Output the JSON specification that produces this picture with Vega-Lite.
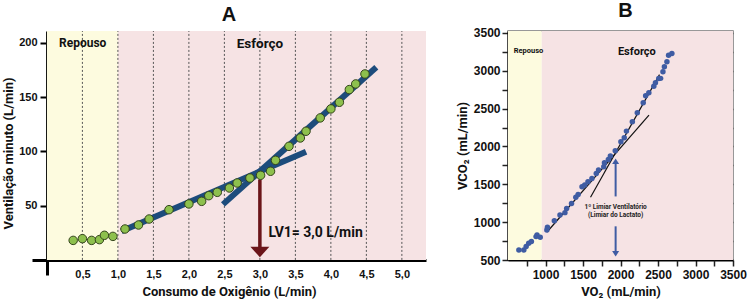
{
  "$schema": "https://vega.github.io/schema/vega-lite/v6.json",
  "padding": {"left": 2, "top": 0, "right": 0, "bottom": 0},
  "spacing": 29,
  "config": {
    "view": {"stroke": null},
    "font": "Liberation Sans",
    "axis": {"labelColor": "#111", "titleColor": "#111", "labelFontWeight": "bold", "titleFontWeight": "bold", "grid": false}
  },
  "datasets": {
    "bgA": [
      {"x": 0, "x2": 1.0, "y": 0, "y2": 211, "zone": "Repouso"},
      {"x": 1.0, "x2": 5.34, "y": 0, "y2": 211, "zone": "Esforço"}
    ],
    "gridA": [
      {"x": 0.5, "y": 0, "y2": 211}, {"x": 1.0, "y": 0, "y2": 211}, {"x": 1.5, "y": 0, "y2": 211},
      {"x": 2.0, "y": 0, "y2": 211}, {"x": 2.5, "y": 0, "y2": 211}, {"x": 3.0, "y": 0, "y2": 211},
      {"x": 3.5, "y": 0, "y2": 211}, {"x": 4.0, "y": 0, "y2": 211}, {"x": 4.5, "y": 0, "y2": 211},
      {"x": 5.0, "y": 0, "y2": 211}
    ],
    "fitA": [
      {"seg": 1, "x": 1.05, "y": 26.4}, {"seg": 1, "x": 3.65, "y": 99.8},
      {"seg": 2, "x": 2.48, "y": 51.2}, {"seg": 2, "x": 4.64, "y": 177.6}
    ],
    "arrowA": [{"x": 3.0, "y": 74, "y2": 11}],
    "headA": [{"x": 3.0, "y": 7.3}],
    "ptsA": [
      {"x": 0.37, "y": 18.0}, {"x": 0.50, "y": 19.6}, {"x": 0.63, "y": 18.0}, {"x": 0.74, "y": 18.7},
      {"x": 0.81, "y": 22.7}, {"x": 0.93, "y": 21.7}, {"x": 1.10, "y": 28.5}, {"x": 1.29, "y": 32.2},
      {"x": 1.44, "y": 37.7}, {"x": 1.72, "y": 46.3}, {"x": 2.00, "y": 51.6}, {"x": 2.18, "y": 54.0},
      {"x": 2.28, "y": 59.2}, {"x": 2.40, "y": 62.3}, {"x": 2.57, "y": 66.3}, {"x": 2.68, "y": 70.9},
      {"x": 2.86, "y": 75.5}, {"x": 3.01, "y": 78.0}, {"x": 3.15, "y": 81.7}, {"x": 3.22, "y": 91.8},
      {"x": 3.41, "y": 104.7}, {"x": 3.57, "y": 112.4}, {"x": 3.65, "y": 118.6}, {"x": 3.85, "y": 130.9},
      {"x": 4.00, "y": 139.2}, {"x": 4.12, "y": 145.3}, {"x": 4.26, "y": 157.0}, {"x": 4.35, "y": 162.2},
      {"x": 4.48, "y": 171.4}
    ],
    "txtA1": [{"x": 0.17, "y": 200, "label": "Repouso"}],
    "txtA2": [{"x": 3.0, "y": 199, "label": "Esforço"}],
    "txtA3": [{"x": 3.12, "y": 24.7, "label": "LV1= 3,0 L/min"}],
    "bgB": [
      {"x": 500, "x2": 950, "y": 500, "y2": 3526, "zone": "Repouso"},
      {"x": 950, "x2": 3500, "y": 500, "y2": 3526, "zone": "Esforço"}
    ],
    "fitB": [
      {"seg": 1, "x": 1020, "y": 870}, {"seg": 1, "x": 2380, "y": 2415},
      {"seg": 2, "x": 1600, "y": 1330}, {"seg": 2, "x": 2520, "y": 2950}
    ],
    "ptsB": [
      {"x": 645, "y": 632}, {"x": 711, "y": 632}, {"x": 742, "y": 677}, {"x": 776, "y": 720},
      {"x": 812, "y": 743}, {"x": 874, "y": 809}, {"x": 887, "y": 830}, {"x": 930, "y": 800},
      {"x": 1018, "y": 896}, {"x": 1026, "y": 932}, {"x": 1118, "y": 1020}, {"x": 1193, "y": 1094},
      {"x": 1259, "y": 1126}, {"x": 1282, "y": 1182}, {"x": 1347, "y": 1248}, {"x": 1404, "y": 1328},
      {"x": 1435, "y": 1367}, {"x": 1487, "y": 1469}, {"x": 1523, "y": 1490}, {"x": 1566, "y": 1535},
      {"x": 1619, "y": 1578}, {"x": 1677, "y": 1644}, {"x": 1707, "y": 1688}, {"x": 1777, "y": 1733},
      {"x": 1786, "y": 1786}, {"x": 1838, "y": 1829}, {"x": 1865, "y": 1873}, {"x": 1930, "y": 1944},
      {"x": 2005, "y": 2063}, {"x": 2050, "y": 2115}, {"x": 2079, "y": 2203}, {"x": 2158, "y": 2327},
      {"x": 2224, "y": 2446}, {"x": 2303, "y": 2578}, {"x": 2335, "y": 2670}, {"x": 2378, "y": 2710},
      {"x": 2444, "y": 2797}, {"x": 2466, "y": 2842}, {"x": 2510, "y": 2898}, {"x": 2535, "y": 2900},
      {"x": 2566, "y": 2987}, {"x": 2585, "y": 3053}, {"x": 2619, "y": 3119}, {"x": 2641, "y": 3206},
      {"x": 2685, "y": 3228}
    ],
    "arrowB": [{"x": 1935, "y": 1340, "y2": 1805}, {"x": 1935, "y": 945, "y2": 582}],
    "headBup": [{"x": 1935, "y": 1805}],
    "headBdown": [{"x": 1935, "y": 582}],
    "txtB1": [{"x": 575, "y": 3268, "label": "Repouso"}],
    "txtB2": [{"x": 2218, "y": 3255, "label": "Esforço"}],
    "txtB3": [{"x": 1935, "y": 1205, "label": "1º Limiar Ventilatório"}, {"x": 1935, "y": 1094, "label": "(Limiar do Lactato)"}]
  },
  "hconcat": [
    {
      "width": 394,
      "height": 244,
      "title": {"text": "A", "fontSize": 20, "fontWeight": "bold", "offset": 6, "color": "#111"},
      "layer": [
        {
          "data": {"name": "bgA"},
          "mark": {"type": "rect"},
          "encoding": {
            "x": {"field": "x", "type": "quantitative", "scale": {"domain": [-0.21, 5.34], "nice": false, "zero": false},
              "axis": {"values": [0.5, 1, 1.5, 2, 2.5, 3, 3.5, 4, 4.5, 5], "labelExpr": "replace(format(datum.value,'.1f'),'.',',')",
                "ticks": false, "tickSize": 0, "offset": -15, "domainColor": "black", "domainWidth": 3, "labelFontSize": 11, "labelPadding": 8,
                "title": "Consumo de Oxigênio (L/min)", "titleFont": "Roboto", "titleFontSize": 13, "titlePadding": 6}},
            "x2": {"field": "x2"},
            "y": {"field": "y", "type": "quantitative", "scale": {"domain": [-13.9, 211], "nice": false, "zero": false},
              "axis": {"values": [50, 100, 150, 200], "offset": -15, "tickSize": 7, "tickWidth": 2, "tickColor": "black", "domainColor": "black", "domainWidth": 3,
                "labelFontSize": 11, "labelPadding": 3, "title": "Ventilação minuto (L/min)", "titleFont": "Roboto", "titleFontSize": 13, "titlePadding": 3}},
            "y2": {"field": "y2"},
            "color": {"field": "zone", "type": "nominal", "scale": {"domain": ["Repouso", "Esforço"], "range": ["#fdfbdf", "#f6e3e4"]}, "legend": null}
          }
        },
        {
          "data": {"name": "gridA"},
          "mark": {"type": "rule", "color": "#555", "strokeDash": [2, 2], "strokeWidth": 1},
          "encoding": {"x": {"field": "x", "type": "quantitative"}, "y": {"field": "y", "type": "quantitative"}, "y2": {"field": "y2"}}
        },
        {
          "data": {"name": "fitA"},
          "mark": {"type": "line", "color": "#1d4c7c", "strokeWidth": 6, "strokeCap": "butt"},
          "encoding": {"x": {"field": "x", "type": "quantitative"}, "y": {"field": "y", "type": "quantitative"}, "detail": {"field": "seg"}}
        },
        {
          "data": {"name": "arrowA"},
          "mark": {"type": "rule", "color": "#6b1519", "strokeWidth": 3.5},
          "encoding": {"x": {"field": "x", "type": "quantitative"}, "y": {"field": "y", "type": "quantitative"}, "y2": {"field": "y2"}}
        },
        {
          "data": {"name": "headA"},
          "mark": {"type": "point", "shape": "M-1,-0.55L1,-0.55L0,0.55Z", "size": 361, "filled": true, "color": "#6b1519", "opacity": 1},
          "encoding": {"x": {"field": "x", "type": "quantitative"}, "y": {"field": "y", "type": "quantitative"}}
        },
        {
          "data": {"name": "ptsA"},
          "mark": {"type": "circle", "size": 72, "fill": "#8dc04d", "stroke": "#34441c", "strokeWidth": 1, "opacity": 1},
          "encoding": {"x": {"field": "x", "type": "quantitative"}, "y": {"field": "y", "type": "quantitative"}}
        },
        {
          "data": {"name": "txtA1"},
          "mark": {"type": "text", "align": "left", "baseline": "middle", "font": "Roboto", "fontSize": 12, "fontWeight": "bold", "color": "#111"},
          "encoding": {"x": {"field": "x", "type": "quantitative"}, "y": {"field": "y", "type": "quantitative"}, "text": {"field": "label"}}
        },
        {
          "data": {"name": "txtA2"},
          "mark": {"type": "text", "align": "center", "baseline": "middle", "font": "Roboto", "fontSize": 13.5, "fontWeight": "bold", "color": "#111"},
          "encoding": {"x": {"field": "x", "type": "quantitative"}, "y": {"field": "y", "type": "quantitative"}, "text": {"field": "label"}}
        },
        {
          "data": {"name": "txtA3"},
          "mark": {"type": "text", "align": "left", "baseline": "middle", "font": "Roboto", "fontSize": 14, "fontWeight": "bold", "color": "#111"},
          "encoding": {"x": {"field": "x", "type": "quantitative"}, "y": {"field": "y", "type": "quantitative"}, "text": {"field": "label"}}
        }
      ]
    },
    {
      "width": 225,
      "height": 229,
      "title": {"text": "B", "fontSize": 20, "fontWeight": "bold", "offset": 6, "dx": 5, "color": "#111"},
      "view": {"stroke": "#777", "strokeWidth": 1.5},
      "layer": [
        {
          "layer": [
            {
              "data": {"name": "bgB"},
              "mark": {"type": "rect"},
              "encoding": {
                "x": {"field": "x", "type": "quantitative", "scale": {"domain": [500, 3500], "nice": false, "zero": false},
                  "axis": {"values": [1000, 1500, 2000, 2500, 3000, 3500], "format": "d", "labelOverlap": false, "labelSeparation": -40, "labelFlush": false,
                    "tickSize": 6, "tickWidth": 1.5, "tickColor": "#222", "domainColor": "black", "domainWidth": 2,
                    "labelFontSize": 12, "labelPadding": 3, "title": "VO₂ (mL/min)", "titleFont": "Roboto", "titleFontSize": 13, "titlePadding": 5}},
                "x2": {"field": "x2"},
                "y": {"field": "y", "type": "quantitative", "scale": {"domain": [500, 3526], "nice": false, "zero": false},
                  "axis": {"values": [500, 1500, 2500, 3500], "format": "d", "labelOverlap": false, "labelSeparation": -40, "labelFlush": false,
                    "tickSize": 6, "tickWidth": 1.5, "tickColor": "#222", "domainColor": "black", "domainWidth": 2,
                    "labelFontSize": 12, "labelPadding": 2, "title": "VCO₂ (mL/min)", "titleFont": "Roboto", "titleFontSize": 13, "titlePadding": 4}},
                "y2": {"field": "y2"},
                "color": {"field": "zone", "type": "nominal", "scale": {"domain": ["Repouso", "Esforço"], "range": ["#fdfbdf", "#f6e3e4"]}, "legend": null}
              }
            },
            {
              "data": {"name": "fitB"},
              "mark": {"type": "line", "color": "#111", "strokeWidth": 1.2},
              "encoding": {"x": {"field": "x", "type": "quantitative"}, "y": {"field": "y", "type": "quantitative"}, "detail": {"field": "seg"}}
            },
            {
              "data": {"name": "ptsB"},
              "mark": {"type": "circle", "size": 30, "color": "#3f5ca3", "opacity": 1},
              "encoding": {"x": {"field": "x", "type": "quantitative"}, "y": {"field": "y", "type": "quantitative"}}
            },
            {
              "data": {"name": "arrowB"},
              "mark": {"type": "rule", "color": "#3f5ca3", "strokeWidth": 2},
              "encoding": {"x": {"field": "x", "type": "quantitative"}, "y": {"field": "y", "type": "quantitative"}, "y2": {"field": "y2"}}
            },
            {
              "data": {"name": "headBup"},
              "mark": {"type": "point", "shape": "M-1,0.8L1,0.8L0,-0.8Z", "size": 49, "filled": true, "color": "#3f5ca3", "opacity": 1},
              "encoding": {"x": {"field": "x", "type": "quantitative"}, "y": {"field": "y", "type": "quantitative"}}
            },
            {
              "data": {"name": "headBdown"},
              "mark": {"type": "point", "shape": "M-1,-0.8L1,-0.8L0,0.8Z", "size": 49, "filled": true, "color": "#3f5ca3", "opacity": 1},
              "encoding": {"x": {"field": "x", "type": "quantitative"}, "y": {"field": "y", "type": "quantitative"}}
            },
            {
              "data": {"name": "txtB1"},
              "mark": {"type": "text", "align": "left", "baseline": "middle", "font": "Roboto", "fontSize": 7.5, "fontWeight": "bold", "color": "#111"},
              "encoding": {"x": {"field": "x", "type": "quantitative"}, "y": {"field": "y", "type": "quantitative"}, "text": {"field": "label"}}
            },
            {
              "data": {"name": "txtB2"},
              "mark": {"type": "text", "align": "center", "baseline": "middle", "font": "Roboto", "fontSize": 11, "fontWeight": "bold", "color": "#111"},
              "encoding": {"x": {"field": "x", "type": "quantitative"}, "y": {"field": "y", "type": "quantitative"}, "text": {"field": "label"}}
            },
            {
              "data": {"name": "txtB3"},
              "mark": {"type": "text", "align": "center", "baseline": "middle", "font": "Roboto", "fontSize": 6.5, "fontWeight": "bold", "color": "#222"},
              "encoding": {"x": {"field": "x", "type": "quantitative"}, "y": {"field": "y", "type": "quantitative"}, "text": {"field": "label"}}
            }
          ]
        },
        {
          "data": {"name": "bgB"},
          "mark": {"type": "point", "opacity": 0},
          "encoding": {
            "x": {"field": "x", "type": "quantitative",
              "axis": {"orient": "top", "values": [750, 1000, 1250, 1500, 1750, 2000, 2250, 2500, 2750, 3000, 3250], "labels": false, "domain": false, "title": null,
                "tickSize": 5, "offset": -5, "tickColor": "#555", "tickWidth": 1.5}},
            "y": {"field": "y", "type": "quantitative",
              "axis": {"orient": "right", "values": [750, 1000, 1250, 1500, 1750, 2000, 2250, 2500, 2750, 3000, 3250, 3500], "labels": false, "domain": false, "title": null,
                "tickSize": 5, "offset": -5, "tickColor": "#555", "tickWidth": 1.5}}
          }
        },
        {
          "data": {"name": "bgB"},
          "mark": {"type": "point", "opacity": 0},
          "encoding": {
            "x": {"field": "x2", "type": "quantitative",
              "axis": {"orient": "bottom", "values": [750, 1250, 1750, 2250, 2750, 3250], "labels": false, "domain": false, "title": null,
                "tickSize": 6, "tickColor": "#222", "tickWidth": 1.5}},
            "y": {"field": "y2", "type": "quantitative",
              "axis": {"orient": "left", "values": [750, 1250, 1750, 2250, 2750, 3250], "labels": false, "domain": false, "title": null,
                "tickSize": 6, "tickColor": "#222", "tickWidth": 1.5}}
          }
        },
        {
          "data": {"name": "bgB"},
          "mark": {"type": "point", "opacity": 0},
          "encoding": {
            "x": {"field": "x", "type": "quantitative", "axis": null},
            "y": {"field": "y", "type": "quantitative",
              "axis": {"orient": "left", "values": [1000, 2000, 3000], "format": "d", "labelOverlap": false, "domain": false, "title": null,
                "tickSize": 6, "tickWidth": 1.5, "tickColor": "#222", "labelFontSize": 12, "labelPadding": 2}}
          }
        }
      ],
      "resolve": {"axis": {"x": "independent", "y": "independent"}}
    }
  ]
}
